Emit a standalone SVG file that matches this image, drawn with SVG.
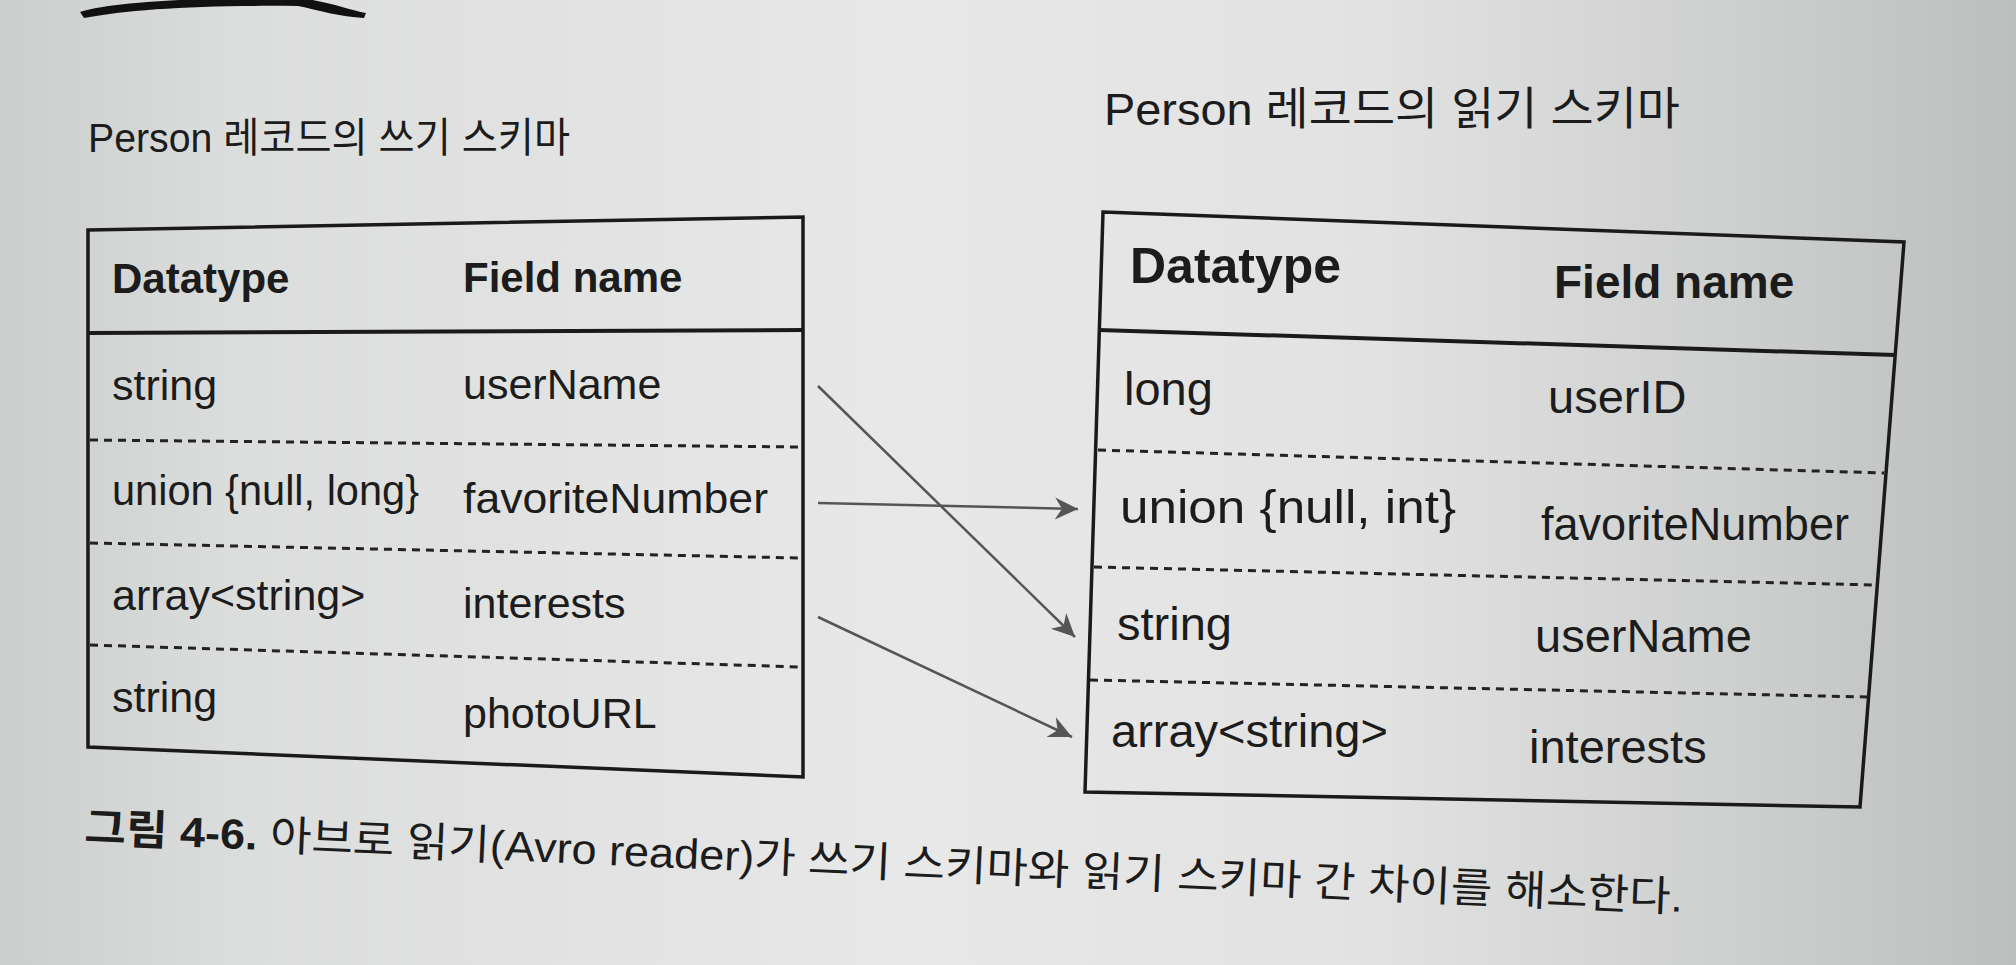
<svg xmlns="http://www.w3.org/2000/svg" width="2016" height="965" viewBox="0 0 2016 965">
  <defs>
    <linearGradient id="paper" x1="0" y1="0" x2="1" y2="0">
      <stop offset="0" stop-color="#cbcecd"/>
      <stop offset="0.12" stop-color="#dcdedd"/>
      <stop offset="0.45" stop-color="#e7e8e7"/>
      <stop offset="0.68" stop-color="#e1e2e1"/>
      <stop offset="0.85" stop-color="#cfd1d0"/>
      <stop offset="1" stop-color="#bcbfbe"/>
    </linearGradient>
    <marker id="arrow" markerUnits="userSpaceOnUse" markerWidth="30" markerHeight="30" viewBox="-26 -14 30 28" refX="0" refY="0" orient="auto">
      <path d="M0,0 L-23,-11 L-16,0 L-23,11 Z" fill="#555"/>
    </marker>
  </defs>
  <style>
    .t { font-family: "Liberation Sans", "Noto Sans CJK KR", sans-serif; fill: #1c1c1c; }
    .hdr { font-weight: bold; }
    .frame { fill: none; stroke: #1a1a1a; stroke-width: 3.5; stroke-linejoin: miter; }
    .hline { stroke: #1a1a1a; stroke-width: 4; }
    .dash { stroke: #222; stroke-width: 3; stroke-dasharray: 8 6; }
    .conn { stroke: #555; stroke-width: 2.5; fill: none; }
  </style>

  <rect x="0" y="0" width="2016" height="965" fill="url(#paper)"/>
  <path d="M80,12 C110,2 200,-3 300,-2 C330,2 350,10 366,13 L364,18 C340,17 318,10 298,6 C200,5 130,9 84,18 Z" fill="#111"/>

  <g id="left-title">
    <text class="t" x="88" y="152" font-size="41" textLength="482" lengthAdjust="spacingAndGlyphs">Person 레코드의 쓰기 스키마</text>
  </g>

  <g id="left-table">
    <polygon class="frame" points="88,230 803,217 803,777 88,747"/>
    <line class="hline" x1="88" y1="333" x2="803" y2="330"/>
    <line class="dash" x1="90" y1="440" x2="801" y2="447"/>
    <line class="dash" x1="90" y1="543" x2="801" y2="558"/>
    <line class="dash" x1="90" y1="645" x2="801" y2="667"/>
    <g id="left-header">
      <text class="t hdr" x="112" y="293" font-size="42">Datatype</text>
      <text class="t hdr" x="463" y="292" font-size="42">Field name</text>
    </g>
    <g id="left-row-userName">
      <text class="t" x="112" y="400" font-size="43">string</text>
      <text class="t" x="463" y="399" font-size="43">userName</text>
    </g>
    <g id="left-row-favoriteNumber">
      <text class="t" x="112" y="505" font-size="43" textLength="307" lengthAdjust="spacingAndGlyphs">union {null, long}</text>
      <text class="t" x="463" y="513" font-size="43" textLength="305" lengthAdjust="spacingAndGlyphs">favoriteNumber</text>
    </g>
    <g id="left-row-interests">
      <text class="t" x="112" y="610" font-size="43">array&lt;string&gt;</text>
      <text class="t" x="463" y="618" font-size="43">interests</text>
    </g>
    <g id="left-row-photoURL">
      <text class="t" x="112" y="712" font-size="43">string</text>
      <text class="t" x="463" y="728" font-size="43">photoURL</text>
    </g>
  </g>

  <g id="right-title">
    <text class="t" x="1104" y="125" font-size="45" textLength="576" lengthAdjust="spacingAndGlyphs">Person 레코드의 읽기 스키마</text>
  </g>

  <g id="right-table">
    <polygon class="frame" points="1103,212 1904,242 1860,807 1085,792"/>
    <line class="hline" x1="1099" y1="330" x2="1895" y2="355"/>
    <line class="dash" x1="1098" y1="450" x2="1884" y2="473"/>
    <line class="dash" x1="1094" y1="567" x2="1876" y2="585"/>
    <line class="dash" x1="1090" y1="680" x2="1868" y2="697"/>
    <g id="right-header">
      <text class="t hdr" x="1130" y="283" font-size="50">Datatype</text>
      <text class="t hdr" x="1554" y="298" font-size="46">Field name</text>
    </g>
    <g id="right-row-userID">
      <text class="t" x="1124" y="405" font-size="47">long</text>
      <text class="t" x="1548" y="413" font-size="47">userID</text>
    </g>
    <g id="right-row-favoriteNumber">
      <text class="t" x="1120" y="523" font-size="47" textLength="336" lengthAdjust="spacingAndGlyphs">union {null, int}</text>
      <text class="t" x="1541" y="540" font-size="47" textLength="308" lengthAdjust="spacingAndGlyphs">favoriteNumber</text>
    </g>
    <g id="right-row-userName">
      <text class="t" x="1117" y="640" font-size="47">string</text>
      <text class="t" x="1535" y="652" font-size="47">userName</text>
    </g>
    <g id="right-row-interests">
      <text class="t" x="1111" y="747" font-size="47">array&lt;string&gt;</text>
      <text class="t" x="1529" y="763" font-size="47">interests</text>
    </g>
  </g>

  <g id="connectors">
    <line class="conn" x1="818" y1="386" x2="1075" y2="637" marker-end="url(#arrow)"/>
    <line class="conn" x1="818" y1="503" x2="1078" y2="509" marker-end="url(#arrow)"/>
    <line class="conn" x1="818" y1="617" x2="1072" y2="737" marker-end="url(#arrow)"/>
  </g>

  <g id="caption">
    <text class="t" x="84" y="842" font-size="42" transform="rotate(2.5 84 842)" textLength="1600" lengthAdjust="spacingAndGlyphs"><tspan font-weight="bold">그림 4-6.</tspan> 아브로 읽기(Avro reader)가 쓰기 스키마와 읽기 스키마 간 차이를 해소한다.</text>
  </g>
</svg>
